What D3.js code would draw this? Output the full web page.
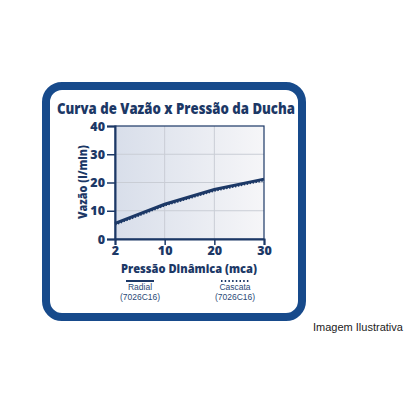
<!DOCTYPE html>
<html><head><meta charset="utf-8">
<script src="https://cdn.jsdelivr.net/npm/d3@7"></script>
<style>html,body{margin:0;padding:0;background:#fff;}svg{display:block;}</style>
</head><body>
<svg id="c" width="420" height="420"></svg>
<script>
const pressures = [2, 10, 20, 30];
const radial = [5.5, 12.3, 17.5, 21.2];
const cascata = [5.1, 11.9, 17.1, 20.8];
const yTicks = [0, 10, 20, 30, 40];
const seriesNames = ["Radial", "Cascata"];
const seriesCodes = ["(7026C16)", "(7026C16)"];
const title = "Curva de Vazão x Pressão da Ducha";
const yLabel = "Vazão (l/min)";
const xLabel = "Pressão Dinâmica (mca)";
const note = "Imagem Ilustrativa";

const navy = "#174a8b", dark = "#1c3866";
const svg = d3.select("#c");
const defs = svg.append("defs");
const grad = defs.append("linearGradient").attr("id","bg").attr("x1","0").attr("x2","1").attr("y1","0").attr("y2","0");
grad.append("stop").attr("offset","0").attr("stop-color","#d8deea");
grad.append("stop").attr("offset","1").attr("stop-color","#f6f6f8");

// outer frame
svg.append("rect").attr("x",46).attr("y",86).attr("width",256).attr("height",231)
  .attr("rx",16).attr("fill","#fff").attr("stroke",navy).attr("stroke-width",8);

svg.append("text").attr("x",57).attr("y",113.5).text(title)
  .attr("font-family","'Open Sans', sans-serif").attr("font-weight",800).attr("font-size",16.5)
  .attr("fill",dark)
  .attr("textLength",238).attr("lengthAdjust","spacingAndGlyphs");

const x = d3.scalePoint().domain(pressures).range([115, 264]);
const y = d3.scaleLinear().domain([0, 40]).range([239, 126]);

svg.append("rect").attr("x",115).attr("y",126).attr("width",149).attr("height",113).attr("fill","url(#bg)");
// grid
svg.append("g").selectAll("line").data(yTicks.slice(1,4)).join("line")
  .attr("x1",115).attr("x2",264).attr("y1",d=>y(d)).attr("y2",d=>y(d))
  .attr("stroke","#c9cdd5").attr("stroke-width",1);
svg.append("g").selectAll("line").data(pressures.slice(1,3)).join("line")
  .attr("y1",126).attr("y2",239).attr("x1",d=>x(d)).attr("x2",d=>x(d))
  .attr("stroke","#c9cdd5").attr("stroke-width",1);
// frame
svg.append("rect").attr("x",115).attr("y",126).attr("width",149).attr("height",113)
  .attr("fill","none").attr("stroke",dark).attr("stroke-width",1.2);

const yAxis = svg.append("g").attr("transform","translate(115,0)")
  .call(d3.axisLeft(y).tickValues(yTicks).tickSize(8).tickPadding(2));
const xAxis = svg.append("g").attr("transform","translate(0,239)")
  .call(d3.axisBottom(x).tickSize(6).tickPadding(1.5));
[yAxis, xAxis].forEach(a=>{
  a.select(".domain").attr("stroke",dark).attr("stroke-width",2);
  a.selectAll(".tick line").attr("stroke",dark).attr("stroke-width",1.5);
  a.selectAll(".tick text").attr("fill",dark).attr("font-family","'Open Sans', sans-serif")
    .attr("font-weight",800).attr("font-size",12.5);
});

const line = d3.line().x((d,i)=>x(pressures[i])).y(d=>y(d));
svg.append("path").datum(cascata).attr("d",line).attr("fill","none")
  .attr("stroke",dark).attr("stroke-width",2.2).attr("stroke-dasharray","1.5,1.5");
svg.append("path").datum(radial).attr("d",line).attr("fill","none")
  .attr("stroke",dark).attr("stroke-width",3);

svg.append("text").attr("transform","translate(87,182) rotate(-90)").attr("text-anchor","middle")
  .text(yLabel).attr("font-family","'Open Sans', sans-serif").attr("font-weight",800)
  .attr("font-size",12.5).attr("fill",dark).attr("textLength",74).attr("lengthAdjust","spacingAndGlyphs");
svg.append("text").attr("x",189).attr("y",273).attr("text-anchor","middle")
  .text(xLabel).attr("font-family","'Open Sans', sans-serif").attr("font-weight",800)
  .attr("font-size",12.5).attr("fill",dark).attr("textLength",136).attr("lengthAdjust","spacingAndGlyphs");

// legend
const legX = [140, 235];
seriesNames.forEach((n,i)=>{
  const g = svg.append("g");
  g.append("line").attr("x1",legX[i]-14).attr("x2",legX[i]+14).attr("y1",281).attr("y2",281)
    .attr("stroke",dark).attr("stroke-width",2).attr("stroke-dasharray", i===1 ? "1.5,2.2" : null);
  g.append("text").attr("x",legX[i]).attr("y",290).attr("text-anchor","middle").text(n)
    .attr("font-family","'Liberation Sans', Arial, sans-serif").attr("font-size",8.5).attr("fill","#2b4a78");
  g.append("text").attr("x",legX[i]).attr("y",299.5).attr("text-anchor","middle").text(seriesCodes[i])
    .attr("font-family","'Liberation Sans', Arial, sans-serif").attr("font-size",8.5).attr("fill","#2b4a78");
});

svg.append("text").attr("x",313).attr("y",331).text(note)
  .attr("font-family","'Liberation Sans', Arial, sans-serif").attr("font-size",11).attr("fill","#222");
</script>
</body></html>
